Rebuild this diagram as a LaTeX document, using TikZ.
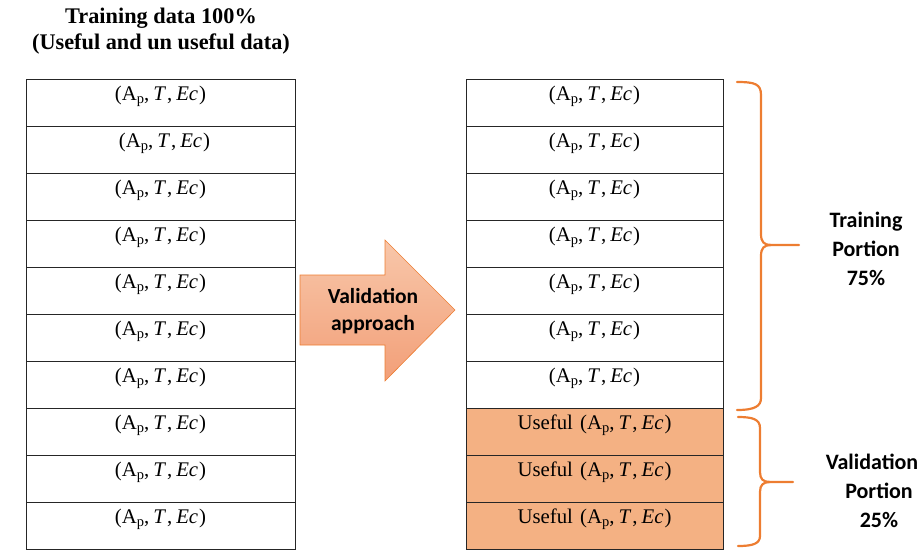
\documentclass[tikz,border=0pt]{standalone}
\usepackage{fontspec}
\setmainfont{Liberation Serif}[BoldFont={Liberation Serif Bold},ItalicFont={Liberation Serif Italic}]
\newfontfamily\calib{Carlito}
\definecolor{brc}{HTML}{ED7D31}
\definecolor{rowor}{HTML}{F4B183}
\definecolor{arrtop}{HTML}{F8C7AA}
\definecolor{arrbot}{HTML}{F29F78}
\newcommand{\subp}{\raisebox{-0.28ex}{\fontsize{14.5}{14.5}\selectfont p}}
\newcommand{\rowlab}{(A\subp,\hspace{4pt}\textit{T}\hspace{1pt},\hspace{4pt}\textit{Ec}\hspace{1pt})}
\begin{document}
\begin{tikzpicture}[x=1pt,y=-1pt,
  rowbox/.style={draw=black!85, line width=0.8pt, minimum height=47pt, inner sep=0pt},
  rowtext/.style={anchor=base, inner sep=0pt, font=\fontsize{20.8}{22}\selectfont},
  bracepath/.style={draw=brc, line width=2.2pt, line cap=round, line join=round},
  sidelab/.style={font=\calib\bfseries\fontsize{22}{29}\selectfont, align=center, inner sep=0pt}]
\useasboundingbox (0,0) rectangle (921,558);

% title
\node[font=\bfseries\fontsize{22.3}{25.5}\selectfont, align=center, inner sep=0pt] (title) at (161,31)
  {Training data 100\%\\(Useful and un useful data)};

% rows
\foreach \i in {1,...,10} {
  \pgfmathsetmacro\yc{79+47*(\i-1)+23.5}
  \node[rowbox, minimum width=269pt] (L\i) at (160.5,\yc) {};
  \ifnum\i=2
    \node[rowtext] (LT\i) at ([xshift=4pt,yshift=-22pt]L\i.north) {\rowlab};
  \else
    \node[rowtext] (LT\i) at ([yshift=-22pt]L\i.north) {\rowlab};
  \fi
}
\foreach \i in {1,...,7} {
  \pgfmathsetmacro\yc{79+47*(\i-1)+23.5}
  \node[rowbox, minimum width=257pt] (R\i) at (594.5,\yc) {};
  \node[rowtext] (RT\i) at ([yshift=-22pt]R\i.north) {\rowlab};
}
\foreach \i in {8,9,10} {
  \pgfmathsetmacro\yc{79+47*(\i-1)+23.5}
  \node[rowbox, fill=rowor, minimum width=257pt] (R\i) at (594.5,\yc) {};
  \node[rowtext] (RT\i) at ([yshift=-22pt]R\i.north) {Useful\hspace{2pt} \rowlab};
}

% arrow
\path[draw=brc, line width=0.6pt, top color=arrtop, bottom color=arrbot]
  (300,275) -- (385,275) -- (385,240) -- (455,310) -- (385,381) -- (385,345) -- (300,345) -- cycle;
\node[sidelab, font=\calib\bfseries\fontsize{21.5}{27}\selectfont] (va) at (373,311) {Validation\\approach};

% braces
\draw[bracepath] (737,82) .. controls (755,82) and (761,84) .. (761,95) -- (761,234)
  .. controls (761,242) and (764,245) .. (771,245) -- (799,245);
\draw[bracepath] (771,245) .. controls (764,245) and (761,248) .. (761,256) -- (761,398)
  .. controls (761,406) and (755,410) .. (737,410);
\draw[bracepath] (738,417) .. controls (752,417) and (760,419) .. (760,428) -- (760,472)
  .. controls (760,479) and (763,482) .. (770,482) -- (793,482);
\draw[bracepath] (770,482) .. controls (763,482) and (760,485) .. (760,492) -- (760,536)
  .. controls (760,544) and (752,546) .. (738,546);

% labels
\node[sidelab] (tp) at (866,249) {Training\\Portion\\75\%};
\node[sidelab] (vp) at (872,491) {Validation\\\hspace*{14pt}Portion\\\hspace*{14pt}25\%};
\end{tikzpicture}
\end{document}
